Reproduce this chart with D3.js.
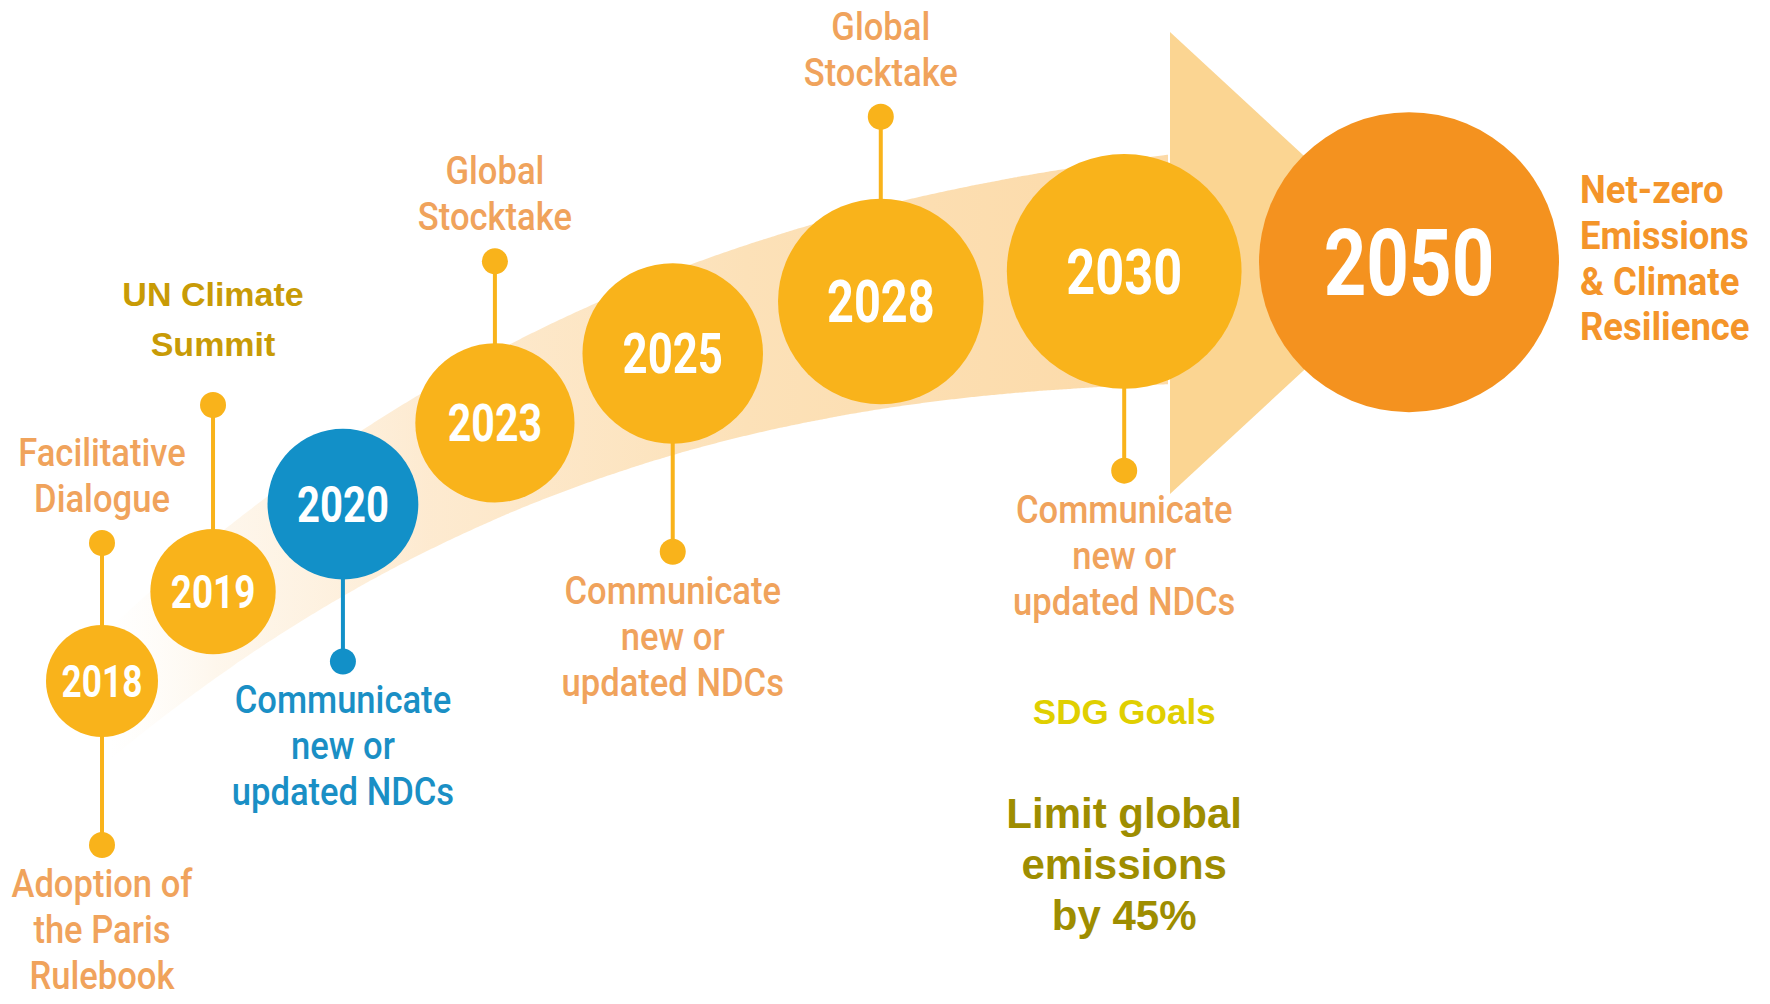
<!DOCTYPE html>
<html>
<head>
<meta charset="utf-8">
<script src="https://cdn.jsdelivr.net/npm/d3@7"></script>
<style>
  html, body { margin: 0; padding: 0; background: #ffffff; }
  svg { display: block; }
</style>
</head>
<body>
<svg id="chart" width="1770" height="1004"></svg>
<script>
// ---- Timeline content ----
const years = ["2018", "2019", "2020", "2023", "2025", "2028", "2030", "2050"];
const currentYear = "2020";
const goalYear = "2050";

// Pinned notes: milestone, side of the track, stem tier, text style, lines
const noteYears  = ["2018", "2018", "2019", "2020", "2023", "2025", "2028", "2030"];
const noteSides  = ["top", "bottom", "top", "bottom", "top", "bottom", "top", "bottom"];
const noteTiers  = [0, 1, 2, 0, 0, 1, 0, 0];
const noteStyles = ["plain", "plain", "headline", "plain", "plain", "plain", "plain", "plain"];
const noteLines  = [
  ["Facilitative", "Dialogue"],
  ["Adoption of", "the Paris", "Rulebook"],
  ["UN Climate", "Summit"],
  ["Communicate", "new or", "updated NDCs"],
  ["Global", "Stocktake"],
  ["Communicate", "new or", "updated NDCs"],
  ["Global", "Stocktake"],
  ["Communicate", "new or", "updated NDCs"]
];

const goalLines = ["Net-zero", "Emissions", "& Climate", "Resilience"];
const sdgTitle  = "SDG Goals";
const sdgLines  = ["Limit global", "emissions", "by 45%"];

// ---- Styling ----
const COLORS = {
  disc: "#f9b31b",
  goal: "#f4921f",
  current: "#1290c8",
  note: "#f0a35c",
  noteCurrent: "#1a8fc5",
  goalText: "#f4952a",
  headline: "#c89b06",
  sdgTitle: "#e0cf00",
  sdgBody: "#9e8d00",
  head: "#fbd592"
};
const CONDENSED = "Roboto, 'Noto Sans', sans-serif";
const GROTESK = "'Liberation Sans', Arial, sans-serif";

const svg = d3.select("#chart");

// ---- Layout scales ----
// Milestones spread out progressively along the track (each gap ~17% wider).
const growth = 1.17;
const xScale = d3.scaleLinear()
  .domain([0, Math.pow(growth, years.length - 1) - 1])
  .range([102, 1409]);
const xOf = year => xScale(Math.pow(growth, years.indexOf(year)) - 1);

// The track rises steeply at first and levels out towards the goal.
const lift = d3.scalePow().exponent(2.9).domain([0, 1398]).range([0, 419]);
const trackY = x => 262 + lift(Math.max(0, 1500 - x));

// Disc size grows along the track; the goal disc is the largest.
const rScale = d3.scaleLinear().domain([102, 1118]).range([56, 117]);
const radiusOf = year => year === goalYear ? 150
  : rScale(xOf(year)) * (year === currentYear ? 1.07 : 1);
const yearFont = d3.scaleLinear().domain([56, 117]).range([44, 63]);
const yearFontOf = year => year === goalYear ? 93 : yearFont(radiusOf(year));

const discs = years.map(year => {
  const x = xOf(year);
  return { year, x, y: trackY(x), r: radiusOf(year) };
});
const discBy = Object.fromEntries(discs.map(d => [d.year, d]));

// ---- Background arrow ----
const defs = svg.append("defs");
const grad = defs.append("linearGradient")
  .attr("id", "bandFade")
  .attr("gradientUnits", "userSpaceOnUse")
  .attr("x1", 110).attr("y1", 0).attr("x2", 1170).attr("y2", 0);
[
  [0.00, "#fef6ea", 0.0],
  [0.10, "#fdf0dd", 0.55],
  [0.30, "#fde8cb", 0.9],
  [0.60, "#fce1b8", 1],
  [1.00, "#fcdaa8", 1]
].forEach(([o, c, a]) => grad.append("stop")
  .attr("offset", o).attr("stop-color", c).attr("stop-opacity", a));

const bandEnd = 1170;
const halfWidth = x => 70 + 0.0463 * (x - 200);
const bandShift = d3.scaleLinear().domain([200, bandEnd]).range([18, 1]);
const band = d3.area()
  .x(d => d)
  .y0(d => trackY(d) + bandShift(d) - halfWidth(d))
  .y1(d => trackY(d) + bandShift(d) + halfWidth(d))
  .curve(d3.curveBasis);

svg.append("path")
  .attr("d", band(d3.range(112, bandEnd + 1, 4)))
  .attr("fill", "url(#bandFade)");

// Arrow head at the end of the band
const headCy = 263, headHalf = 231, headLen = 250;
svg.append("path")
  .attr("d", d3.line()([
    [bandEnd, headCy - headHalf],
    [bandEnd + headLen, headCy],
    [bandEnd, headCy + headHalf]
  ]) + "Z")
  .attr("fill", COLORS.head);

// ---- Pins (stems + dots) ----
const stemTiers = [82, 108, 124];
const notes = noteYears.map((year, i) => {
  const d = discBy[year];
  const sgn = noteSides[i] === "top" ? -1 : 1;
  return {
    year,
    side: noteSides[i],
    style: noteStyles[i],
    lines: noteLines[i],
    x: d.x,
    y0: d.y,
    dotY: d.y + sgn * (d.r + stemTiers[noteTiers[i]])
  };
});
const pinColor = d => d.year === currentYear ? COLORS.current : COLORS.disc;

const pins = svg.append("g").attr("class", "pins");
pins.selectAll("line")
  .data(notes)
  .join("line")
  .attr("x1", d => d.x).attr("x2", d => d.x)
  .attr("y1", d => d.y0).attr("y2", d => d.dotY)
  .attr("stroke", pinColor)
  .attr("stroke-width", 4);
pins.selectAll("circle")
  .data(notes)
  .join("circle")
  .attr("cx", d => d.x).attr("cy", d => d.dotY)
  .attr("r", 13)
  .attr("fill", pinColor);

// ---- Discs ----
const discColor = d => d.year === goalYear ? COLORS.goal
  : d.year === currentYear ? COLORS.current : COLORS.disc;

const discG = svg.append("g").attr("class", "discs");
discG.selectAll("circle")
  .data(discs)
  .join("circle")
  .attr("cx", d => d.x).attr("cy", d => d.y).attr("r", d => d.r)
  .attr("fill", discColor);

discG.selectAll("text")
  .data(discs)
  .join("text")
  .attr("transform", d => `translate(${d.x},${d.y + 0.355 * yearFontOf(d.year)}) scale(0.8,1)`)
  .attr("text-anchor", "middle")
  .attr("font-family", CONDENSED)
  .attr("font-weight", 700)
  .attr("font-size", d => yearFontOf(d.year))
  .attr("fill", "#ffffff")
  .text(d => d.year);

// ---- Note labels ----
const NOTE_STYLE = {
  plain:    { family: CONDENSED, weight: 500, size: 38, sx: 0.91, lh: 46, gapTop: 31, gapBottom: 52 },
  headline: { family: GROTESK,   weight: 700, size: 34, sx: 1.0,  lh: 50, gapTop: 49, gapBottom: 52 }
};

const noteG = svg.append("g").attr("class", "notes");
noteG.selectAll("text")
  .data(notes)
  .join("text")
  .each(function (d) {
    const s = NOTE_STYLE[d.style];
    const n = d.lines.length;
    const first = d.side === "top"
      ? d.dotY - s.gapTop - (n - 1) * s.lh
      : d.dotY + s.gapBottom;
    const color = d.style === "headline" ? COLORS.headline
      : d.year === currentYear ? COLORS.noteCurrent : COLORS.note;
    const t = d3.select(this)
      .attr("transform", `translate(${d.x},${first}) scale(${s.sx},1)`)
      .attr("text-anchor", "middle")
      .attr("font-family", s.family)
      .attr("font-weight", s.weight)
      .attr("font-size", s.size)
      .attr("fill", color);
    t.selectAll("tspan")
      .data(d.lines)
      .join("tspan")
      .attr("x", 0)
      .attr("y", (l, i) => i * s.lh)
      .text(l => l);
  });

// ---- Goal statement beside the 2050 disc ----
const goal = discBy[goalYear];
svg.append("text")
  .attr("transform", `translate(${goal.x + goal.r + 21},${goal.y - 59}) scale(0.96,1)`)
  .attr("font-family", CONDENSED)
  .attr("font-weight", 700)
  .attr("font-size", 38)
  .attr("fill", COLORS.goalText)
  .selectAll("tspan")
  .data(goalLines)
  .join("tspan")
  .attr("x", 0)
  .attr("y", (l, i) => i * 45.7)
  .text(l => l);

// ---- SDG target under the 2030 milestone ----
const sdgX = discBy["2030"].x;
svg.append("text")
  .attr("x", sdgX).attr("y", 724)
  .attr("text-anchor", "middle")
  .attr("font-family", GROTESK)
  .attr("font-weight", 700)
  .attr("font-size", 35)
  .attr("fill", COLORS.sdgTitle)
  .text(sdgTitle);

svg.append("text")
  .attr("text-anchor", "middle")
  .attr("font-family", GROTESK)
  .attr("font-weight", 700)
  .attr("font-size", 42)
  .attr("fill", COLORS.sdgBody)
  .selectAll("tspan")
  .data(sdgLines)
  .join("tspan")
  .attr("x", sdgX)
  .attr("y", (l, i) => 828 + i * 51)
  .text(l => l);
</script>
</body>
</html>
